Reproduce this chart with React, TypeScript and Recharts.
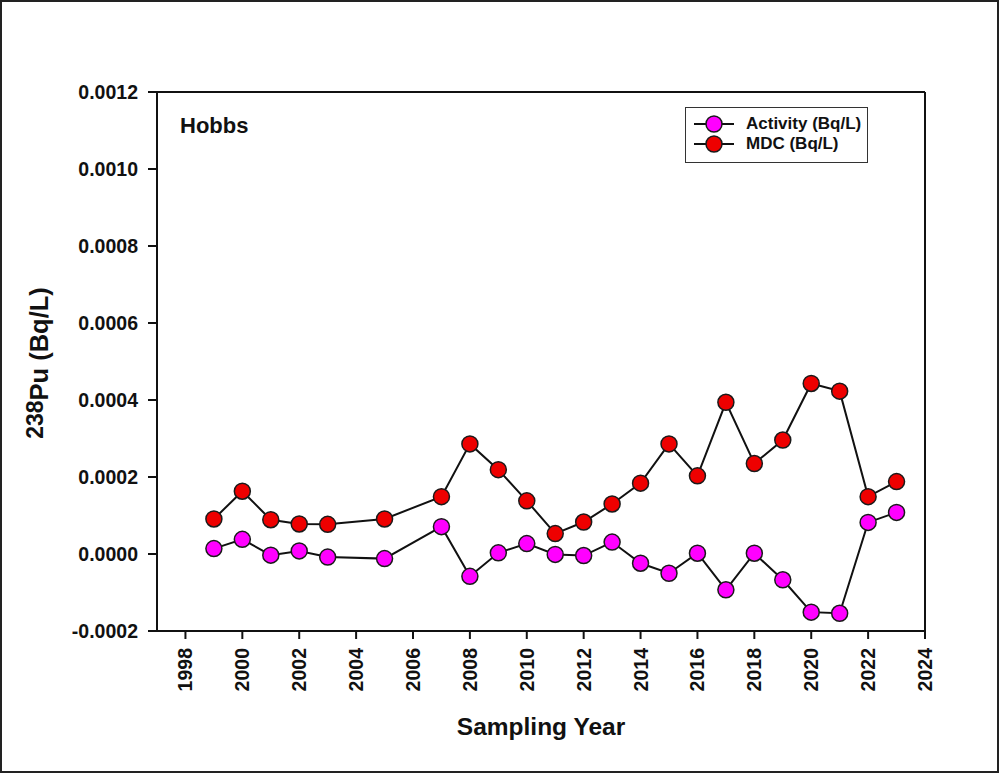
import React from 'react';
import { LineChart, Line, XAxis, YAxis, Legend, ReferenceLine, Label } from 'recharts';

// Hobbs 238Pu, values
const years = [1999, 2000, 2001, 2002, 2003, 2005, 2007, 2008, 2009, 2010, 2011, 2012, 2013, 2014, 2015, 2016, 2017, 2018, 2019, 2020, 2021, 2022, 2023];
const activity = [0.000014, 0.000038, -0.000003, 0.000008, -0.000008, -0.000012, 0.000071, -0.000058, 0.000003, 0.000027, -0.000001, -0.000004, 0.000031, -0.000024, -0.00005, 0.000002, -0.000093, 0.000002, -0.000067, -0.000151, -0.000154, 0.000082, 0.000108];
const mdc = [0.000091, 0.000163, 0.000089, 0.000078, 0.000077, 0.000091, 0.000149, 0.000286, 0.000219, 0.000138, 0.000053, 0.000083, 0.00013, 0.000184, 0.000286, 0.000203, 0.000394, 0.000235, 0.000296, 0.000443, 0.000423, 0.000149, 0.000188];
const xTicks = [1998, 2000, 2002, 2004, 2006, 2008, 2010, 2012, 2014, 2016, 2018, 2020, 2022, 2024];
const yTicks = [-0.0002, 0, 0.0002, 0.0004, 0.0006, 0.0008, 0.001, 0.0012];

const data = years.map((year, i) => ({ year, activity: activity[i], mdc: mdc[i] }));

const FONT = '"Liberation Sans", Arial, sans-serif';
const INK = '#111';

const XTick = ({ x, y, payload }: any) => (
  <text
    x={x}
    y={y}
    transform={`rotate(-90, ${x}, ${y})`}
    textAnchor="end"
    dy="0.36em"
    fontSize={19.5}
    fontWeight="bold"
    fontFamily={FONT}
    fill={INK}
  >
    {payload.value}
  </text>
);

const YTitle = () => (
  <text
    transform="translate(43, 363) rotate(-90)"
    textAnchor="middle"
    fontWeight="bold"
    fontFamily={FONT}
    fill={INK}
  >
    <tspan fontSize={23}>238</tspan>
    <tspan fontSize={25.5} dy={5}>Pu (Bq/L)</tspan>
  </text>
);

const LegendBox = ({ payload }: any) => (
  <div
    style={{
      width: 183,
      height: 56,
      boxSizing: 'border-box',
      border: '1.5px solid #333',
      background: '#fff',
      paddingTop: 6,
      fontFamily: FONT,
    }}
  >
    {(payload || []).map((entry: any) => (
      <div key={entry.value} style={{ display: 'flex', alignItems: 'center', height: 20 }}>
        <svg width={56} height={20} style={{ marginLeft: 4 }}>
          <line x1={4} y1={10} x2={44} y2={10} stroke={INK} strokeWidth={2} />
          <circle cx={24} cy={10} r={8} fill={entry.payload.dot.fill} stroke="#1a1a1a" strokeWidth={1.5} />
        </svg>
        <span style={{ fontSize: 17, fontWeight: 'bold', color: INK }}>{entry.value}</span>
      </div>
    ))}
  </div>
);

export default function App() {
  return (
    <div
      style={{
        position: 'absolute',
        left: 0,
        top: 0,
        width: 999,
        height: 773,
        boxSizing: 'border-box',
        border: '2px solid #222',
        background: '#fff',
      }}
    >
      <div style={{ position: 'absolute', left: -2, top: -2 }}>
        <LineChart width={999} height={773} data={data} margin={{ top: 92, right: 74, bottom: 72, left: 57 }}>
          <XAxis
            dataKey="year"
            type="number"
            domain={[1997, 2024]}
            ticks={xTicks}
            interval={0}
            height={70}
            tickSize={8}
            tickMargin={9}
            tick={<XTick />}
            axisLine={{ stroke: INK, strokeWidth: 2 }}
            tickLine={{ stroke: INK, strokeWidth: 2 }}
          >
            <Label
              value="Sampling Year"
              position="insideBottom"
              offset={-34}
              fontSize={24.5}
              fontWeight="bold"
              fontFamily={FONT}
              fill={INK}
            />
          </XAxis>
          <YAxis
            type="number"
            domain={[-0.0002, 0.0012]}
            ticks={yTicks}
            interval={0}
            width={100}
            tickSize={9}
            tickMargin={10}
            tickFormatter={(v: number) => v.toFixed(4)}
            tick={{ fontSize: 19.5, fontWeight: 'bold', fontFamily: FONT, fill: INK }}
            axisLine={{ stroke: INK, strokeWidth: 2 }}
            tickLine={{ stroke: INK, strokeWidth: 2 }}
            label={<YTitle />}
          />
          <ReferenceLine y={0.0012} stroke={INK} strokeWidth={2} />
          <ReferenceLine x={2024} stroke={INK} strokeWidth={2} />
          <Legend
            layout="horizontal"
            verticalAlign="middle"
            align="center"
            content={<LegendBox />}
            wrapperStyle={{ position: 'absolute', left: 685, top: 107, width: 183, height: 56 }}
          />
          <Line
            name="Activity (Bq/L)"
            dataKey="activity"
            stroke={INK}
            strokeWidth={2}
            dot={{ r: 8, fill: '#ff00ff', stroke: '#1a1a1a', strokeWidth: 1.5 }}
            isAnimationActive={false}
          />
          <Line
            name="MDC (Bq/L)"
            dataKey="mdc"
            stroke={INK}
            strokeWidth={2}
            dot={{ r: 8, fill: '#ee0000', stroke: '#1a1a1a', strokeWidth: 1.5 }}
            isAnimationActive={false}
          />
        </LineChart>
      </div>
      <div
        style={{
          position: 'absolute',
          left: 178,
          top: 111,
          fontFamily: FONT,
          fontSize: 22,
          fontWeight: 'bold',
          color: INK,
        }}
      >
        Hobbs
      </div>
    </div>
  );
}
